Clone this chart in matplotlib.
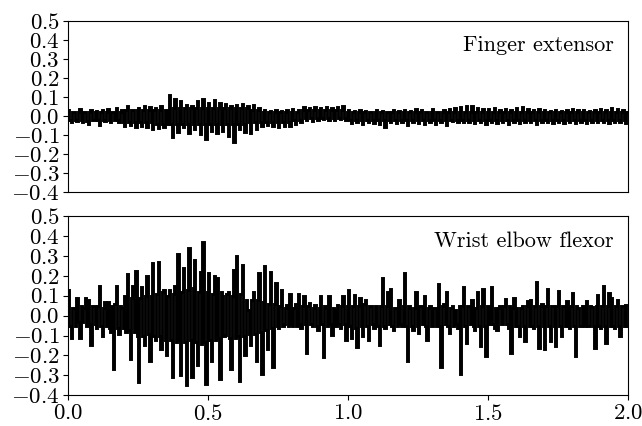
import numpy as np
import matplotlib
matplotlib.use('Agg')
import matplotlib.pyplot as plt

plt.rcParams['font.family'] = 'serif'
plt.rcParams['font.serif'] = ['cmr10']
plt.rcParams['mathtext.fontset'] = 'cm'
plt.rcParams['axes.formatter.use_mathtext'] = True
plt.rcParams['axes.unicode_minus'] = True

# EMG samples, 200 samples per second, 0 to 2 s
finger_extensor = [
    0.03, -0.02, -0.03, 0.02, 0.02, -0.02, -0.025, 0.02, 0.035, -0.02, -0.03, 0.02, 0.02, -0.025, -0.04, 0.02, 0.03, -0.02, -0.02, 0.02,
    0.025, -0.02, -0.045, 0.02, 0.03, -0.02, -0.025, 0.02, 0.035, -0.02, -0.03, 0.02, 0.02, -0.02, 0.04, -0.02, -0.03, 0.02, 0.03, -0.03,
    -0.05, 0.03, 0.053, -0.03, -0.045, 0.03, 0.03, -0.03, -0.058, 0.03, 0.04, -0.03, -0.05, 0.03, 0.05, -0.03, -0.06, 0.03, 0.045, -0.03,
    -0.067, 0.03, 0.04, -0.04, -0.065, 0.03, 0.05, -0.04, -0.06, 0.03, 0.03, -0.04, 0.112, -0.04, -0.11, 0.04, 0.09, -0.04, -0.085, 0.04,
    0.08, -0.04, -0.06, 0.04, 0.06, -0.04, -0.09, 0.04, 0.05, -0.04, -0.07, 0.04, 0.08, -0.04, -0.095, 0.04, 0.088, -0.04, -0.12, 0.04,
    0.07, -0.04, -0.08, 0.04, 0.085, -0.04, -0.09, 0.04, 0.07, -0.04, -0.08, 0.04, 0.065, -0.04, -0.105, 0.04, 0.05, -0.04, -0.137, 0.04,
    0.06, -0.04, -0.07, 0.04, 0.065, -0.04, -0.085, 0.04, 0.055, -0.03, -0.09, 0.03, 0.06, -0.03, -0.07, 0.03, 0.04, -0.03, -0.05, 0.02,
    0.03, -0.03, -0.045, 0.02, 0.025, -0.03, -0.05, 0.02, 0.03, -0.03, -0.058, 0.02, 0.025, -0.03, -0.055, 0.02, 0.03, -0.03, -0.05, 0.02,
    0.035, -0.02, -0.04, 0.02, 0.03, -0.02, -0.03, 0.03, 0.045, -0.01, -0.02, 0.03, 0.04, -0.01, -0.025, 0.03, 0.047, -0.01, -0.02, 0.03,
    0.04, -0.01, -0.015, 0.03, 0.045, -0.01, -0.02, 0.03, 0.04, -0.01, -0.02, 0.03, 0.045, -0.01, -0.015, 0.03, 0.05, -0.01, -0.02, 0.02,
    0.03, -0.02, -0.035, 0.02, 0.025, -0.02, -0.03, 0.02, 0.03, -0.02, -0.04, 0.02, 0.025, -0.02, -0.03, 0.02, 0.02, -0.02, -0.035, 0.02,
    0.03, -0.02, -0.04, 0.02, 0.025, -0.02, -0.06, 0.02, 0.02, -0.02, -0.03, 0.02, 0.03, -0.02, -0.035, 0.02, 0.025, -0.02, -0.03, 0.02,
    0.03, -0.02, -0.045, 0.02, 0.025, -0.02, -0.03, 0.02, 0.035, -0.02, -0.035, 0.02, 0.03, -0.02, -0.04, 0.02, 0.02, -0.02, -0.03, 0.02,
    0.035, -0.02, -0.04, 0.02, 0.02, -0.02, -0.03, 0.02, 0.03, -0.02, -0.045, 0.02, 0.035, -0.02, -0.025, 0.02, 0.04, -0.02, -0.03, 0.02,
    0.045, -0.02, -0.03, 0.02, 0.055, -0.02, -0.03, 0.02, 0.05, -0.02, -0.035, 0.02, 0.04, -0.02, -0.03, 0.02, 0.035, -0.02, -0.04, 0.02,
    0.035, -0.02, -0.03, 0.02, 0.04, -0.02, -0.035, 0.02, 0.03, -0.02, -0.03, 0.02, 0.035, -0.02, -0.04, 0.02, 0.03, -0.02, -0.03, 0.02,
    0.04, -0.02, -0.035, 0.02, 0.045, -0.02, -0.03, 0.02, 0.035, -0.02, -0.03, 0.02, 0.03, -0.02, -0.04, 0.02, 0.035, -0.02, -0.03, 0.02,
    0.03, -0.02, -0.03, 0.02, 0.025, -0.02, -0.035, 0.02, 0.03, -0.02, -0.03, 0.02, 0.025, -0.02, -0.035, 0.02, 0.03, -0.02, -0.03, 0.02,
    0.035, -0.02, -0.035, 0.02, 0.03, -0.02, -0.03, 0.02, 0.03, -0.02, -0.035, 0.02, 0.025, -0.02, -0.03, 0.02, 0.03, -0.02, -0.03, 0.02,
    0.035, -0.02, -0.03, 0.02, 0.03, -0.02, -0.035, 0.02, 0.04, -0.02, -0.03, 0.02, 0.035, -0.02, -0.03, 0.02, 0.03, -0.02, -0.035, 0.02,
]

wrist_elbow_flexor = [
    0.13, -0.05, -0.11, 0.04, 0.04, -0.05, 0.09, -0.03, -0.11, 0.05, -0.03, 0.04, 0.09, -0.05, 0.08, -0.04, -0.145, 0.05, 0.05, -0.04,
    -0.06, 0.05, 0.15, -0.05, -0.10, 0.04, 0.07, -0.05, 0.07, -0.06, -0.08, 0.05, -0.27, 0.06, 0.15, -0.06, -0.09, 0.05, 0.04, -0.06,
    0.10, -0.08, 0.21, -0.07, -0.22, 0.09, 0.15, -0.08, 0.225, -0.10, -0.335, 0.09, 0.145, -0.10, -0.145, 0.10, 0.20, -0.09, -0.23, 0.10,
    0.265, -0.10, -0.12, 0.11, 0.27, -0.10, -0.17, 0.12, 0.127, -0.12, -0.20, 0.10, 0.13, -0.12, -0.31, 0.11, 0.15, -0.13, 0.31, -0.12,
    -0.30, 0.12, 0.24, -0.13, -0.35, 0.13, 0.34, -0.12, -0.31, 0.14, 0.28, -0.13, -0.25, 0.12, 0.22, -0.14, 0.37, -0.13, -0.345, 0.12,
    0.215, -0.12, -0.23, 0.11, 0.20, -0.12, 0.19, -0.11, -0.32, 0.12, 0.10, -0.10, -0.095, 0.11, 0.12, -0.11, -0.27, 0.10, 0.23, -0.11,
    0.30, -0.10, -0.33, 0.11, 0.255, -0.10, -0.20, 0.08, 0.03, -0.09, -0.145, 0.08, 0.12, -0.09, -0.23, 0.08, 0.215, -0.08, -0.295, 0.07,
    0.25, -0.07, -0.17, 0.06, 0.22, -0.06, -0.26, 0.06, 0.165, -0.05, -0.06, 0.05, 0.13, -0.05, -0.04, 0.04, 0.055, -0.05, 0.11, -0.04,
    -0.05, 0.04, 0.06, -0.05, 0.11, -0.04, -0.06, 0.05, 0.097, -0.04, -0.19, 0.05, 0.063, -0.04, -0.05, 0.04, 0.055, -0.05, -0.07, 0.04,
    0.097, -0.04, -0.21, 0.05, 0.04, -0.05, 0.097, -0.04, -0.095, 0.04, 0.03, -0.05, 0.055, -0.04, -0.06, 0.05, 0.097, -0.04, -0.12, 0.05,
    0.13, -0.05, -0.11, 0.05, 0.105, -0.06, -0.155, 0.05, 0.088, -0.05, -0.103, 0.06, 0.08, -0.05, -0.12, 0.05, 0.05, -0.04, -0.06, 0.05,
    0.05, -0.05, -0.145, 0.05, 0.19, -0.05, -0.06, 0.05, 0.117, -0.04, 0.133, -0.05, -0.07, 0.04, 0.04, -0.05, 0.08, -0.04, -0.05, 0.05,
    0.213, -0.05, -0.228, 0.05, 0.04, -0.05, -0.07, 0.04, 0.12, -0.05, -0.087, 0.05, 0.05, -0.04, 0.10, -0.05, -0.12, 0.04, 0.05, -0.05,
    -0.05, 0.04, 0.04, -0.05, 0.16, -0.05, -0.26, 0.05, 0.06, -0.04, 0.12, -0.05, -0.087, 0.04, 0.05, -0.05, 0.03, -0.04, -0.06, 0.05,
    -0.295, 0.05, 0.143, -0.05, -0.137, 0.05, 0.05, -0.04, 0.08, -0.05, -0.07, 0.04, 0.12, -0.05, -0.153, 0.05, 0.133, -0.05, -0.203, 0.05,
    0.05, -0.04, 0.143, -0.04, -0.062, 0.04, -0.07, 0.04, 0.05, -0.04, -0.04, 0.05, 0.083, -0.04, -0.06, 0.05, -0.187, 0.04, 0.088, -0.05,
    0.04, -0.05, -0.103, 0.04, 0.05, -0.05, -0.128, 0.05, 0.072, -0.05, 0.08, -0.05, -0.06, 0.05, 0.168, -0.05, -0.162, 0.05, 0.06, -0.05,
    -0.17, 0.05, 0.133, -0.05, -0.128, 0.05, 0.05, -0.05, -0.153, 0.05, 0.122, -0.05, -0.103, 0.05, 0.05, -0.05, 0.072, -0.05, -0.06, 0.05,
    0.113, -0.05, -0.203, 0.05, 0.04, -0.05, -0.053, 0.05, 0.05, -0.05, 0.072, -0.05, -0.05, 0.05, 0.043, -0.05, -0.162, 0.05, 0.105, -0.05,
    -0.06, 0.05, 0.15, -0.05, -0.137, 0.05, 0.113, -0.05, 0.088, -0.05, -0.06, 0.05, 0.08, -0.05, -0.103, 0.05, 0.05, -0.05, 0.055, -0.05,
]

muscle_names = ['Finger extensor', 'Wrist elbow flexor']
duration = 2.0


def main():
    fig = plt.figure(figsize=(6.42, 4.26), dpi=100)
    ax_top = fig.add_axes([0.106, 0.549, 0.872, 0.402])
    ax_bot = fig.add_axes([0.106, 0.072, 0.872, 0.421], sharex=ax_top)

    for ax, sig, name in zip([ax_top, ax_bot],
                             [finger_extensor, wrist_elbow_flexor],
                             muscle_names):
        edges = np.linspace(0, duration, len(sig) + 1)
        ax.stairs(sig, edges, baseline=None, color='black', linewidth=2.1)
        ax.set_ylim(-0.4, 0.5)
        ax.set_yticks(np.arange(-0.4, 0.51, 0.1))
        ax.text(0.975, 0.86, name, transform=ax.transAxes,
                ha='right', va='center', fontsize=16)
        ax.tick_params(labelsize=16.5, length=3.5, pad=2.5)

    ax_bot.set_xlim(0, duration)
    ax_bot.set_xticks([0.0, 0.5, 1.0, 1.5, 2.0])
    ax_top.tick_params(axis='x', bottom=False, labelbottom=False)

    fig.savefig('out.png', dpi=100)


if __name__ == '__main__':
    main()
